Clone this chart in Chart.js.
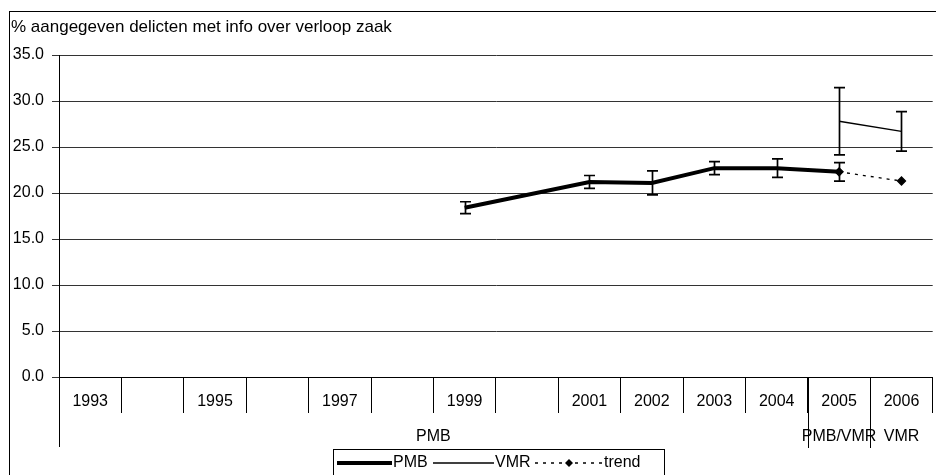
<!DOCTYPE html>
<html>
<head>
<meta charset="utf-8">
<script src="https://cdn.jsdelivr.net/npm/chart.js@4.4.1/dist/chart.umd.min.js"></script>
<style>
  html, body { margin: 0; padding: 0; background: #fff; overflow: hidden; }
  #wrap { position: absolute; left: 0; top: 0; width: 938px; height: 475px; }
</style>
</head>
<body>
<div id="wrap"><canvas id="myChart" width="938" height="475"></canvas></div>
<script>
// categories (empty label = year without measurement)
var years = ['1993', '', '1995', '', '1997', '', '1999', '', '2001', '2002', '2003', '2004', '2005', '2006'];
// second row of the category axis
var groupNames = ['PMB', 'PMB/VMR', 'VMR'];
var groupSpans = [12, 1, 1];

var pmb    = [null, null, null, null, null, null, 18.4, null, 21.2, 21.1, 22.7, 22.7, 22.3, null];
var pmbErr = [null, null, null, null, null, null, 0.65, null, 0.7, 1.3, 0.7, 1.0, 1.0, null];
var vmr    = [null, null, null, null, null, null, null, null, null, null, null, null, 27.8, 26.7];
var vmrErr = [null, null, null, null, null, null, null, null, null, null, null, null, 3.65, 2.15];
var trend  = [null, null, null, null, null, null, null, null, null, null, null, null, 22.3, 21.3];

var yTicks = [0, 5, 10, 15, 20, 25, 30, 35];
var yTitle = '% aangegeven delicten met info over verloop zaak';

var FAMILY = '"Liberation Sans", Arial, Helvetica, sans-serif';
var FONT = '16px ' + FAMILY;

// error bars per dataset index
var errors = [pmbErr, vmrErr, null];

var errorBars = {
    id: 'errorBars',
    afterDatasetsDraw: function(chart){
        var ctx = chart.ctx;
        var x = chart.scales.x, y = chart.scales.y;
        ctx.save();
        ctx.strokeStyle = '#000';
        ctx.lineWidth = 1.7;
        chart.data.datasets.forEach(function(ds, di){
            var err = errors[di];
            if (!err) return;
            ds.data.forEach(function(v, i){
                if (v === null || err[i] === null) return;
                var px = Math.round(x.getPixelForValue(i)) + 0.5;
                var top = y.getPixelForValue(v + err[i]);
                var bot = y.getPixelForValue(v - err[i]);
                ctx.beginPath();
                ctx.moveTo(px, top); ctx.lineTo(px, bot);
                ctx.moveTo(px - 5.5, top); ctx.lineTo(px + 5.5, top);
                ctx.moveTo(px - 5.5, bot); ctx.lineTo(px + 5.5, bot);
                ctx.stroke();
            });
        });
        ctx.restore();
    }
};

// frame, title, two-row category labels and the legend box
var decorations = {
    id: 'decorations',
    afterDraw: function(chart){
        var ctx = chart.ctx;
        var x = chart.scales.x;
        var area = chart.chartArea;
        var bottom = area.bottom;
        var step = x.getPixelForValue(1) - x.getPixelForValue(0);
        ctx.save();
        ctx.strokeStyle = '#000';
        ctx.lineWidth = 1;
        ctx.strokeRect(9.5, 11.5, 1000, 1000);

        ctx.fillStyle = '#000';
        ctx.font = '17px ' + FAMILY;
        ctx.textBaseline = 'middle';
        ctx.textAlign = 'left';
        ctx.fillText(yTitle, 11, 27);

        ctx.font = FONT;
        // axis line continues down through the label rows
        var ax = Math.round(area.left) + 0.5;
        ctx.beginPath();
        ctx.moveTo(ax, bottom); ctx.lineTo(ax, bottom + 70);
        ctx.stroke();

        ctx.textAlign = 'center';
        years.forEach(function(lbl, i){
            if (lbl) ctx.fillText(lbl, x.getPixelForValue(i), bottom + 25);
        });

        var start = 0;
        groupNames.forEach(function(name, g){
            var end = start + groupSpans[g] - 1;
            var cx = (x.getPixelForValue(start) + x.getPixelForValue(end)) / 2;
            ctx.fillText(name, cx, bottom + 60);
            if (start > 0) {
                var bx = Math.round(x.getPixelForValue(start) - step / 2) + 0.5;
                ctx.beginPath();
                ctx.moveTo(bx, bottom); ctx.lineTo(bx, bottom + 71);
                ctx.stroke();
            }
            start = end + 1;
        });

        // legend
        var ly = 463;
        ctx.strokeRect(333.5, 449.5, 331, 60);
        ctx.textAlign = 'left';
        var items = [
            {x0: 337, x1: 392, tx: 393},
            {x0: 433, x1: 494, tx: 495},
            {x0: 535, x1: 603, tx: 604}
        ];
        chart.data.datasets.forEach(function(ds, i){
            var it = items[i];
            ctx.save();
            ctx.lineWidth = ds.borderWidth;
            ctx.setLineDash(ds.borderDash || []);
            ctx.beginPath();
            ctx.moveTo(it.x0, ly); ctx.lineTo(it.x1, ly);
            ctx.stroke();
            ctx.restore();
            if (ds.pointRadius > 0) {
                var mx = (it.x0 + it.x1) / 2;
                ctx.beginPath();
                ctx.moveTo(mx, ly - 4); ctx.lineTo(mx + 4, ly);
                ctx.lineTo(mx, ly + 4); ctx.lineTo(mx - 4, ly);
                ctx.closePath();
                ctx.fill();
            }
            ctx.fillText(ds.label, it.tx, ly);
        });
        ctx.restore();
    }
};

var ctx = document.getElementById('myChart').getContext('2d');
var myChart = new Chart(ctx, {
    type: 'line',
    data: {
        labels: years,
        datasets: [{
            label: 'PMB',
            data: pmb,
            borderColor: '#000',
            borderWidth: 4,
            pointRadius: 0,
            spanGaps: true
        }, {
            label: 'VMR',
            data: vmr,
            borderColor: '#000',
            borderWidth: 1.3,
            pointRadius: 0
        }, {
            label: 'trend',
            data: trend,
            borderColor: '#000',
            borderWidth: 1.3,
            borderDash: [3, 5],
            pointStyle: 'rectRot',
            pointRadius: 4,
            pointBackgroundColor: '#000',
            pointBorderColor: '#000'
        }]
    },
    options: {
        responsive: false,
        animation: false,
        devicePixelRatio: 1,
        layout: { padding: { left: 9, top: 55, right: 1, bottom: 62 } },
        plugins: {
            legend: { display: false },
            tooltip: { enabled: false }
        },
        scales: {
            x: {
                offset: true,
                grid: {
                    offset: true,
                    drawOnChartArea: false,
                    drawTicks: true,
                    tickLength: 36,
                    color: '#000'
                },
                border: { display: true, color: '#000', width: 1 },
                ticks: { display: false },
                afterFit: function(s){ s.height = 36; }
            },
            y: {
                min: 0,
                max: 35,
                afterBuildTicks: function(s){ s.ticks = yTicks.map(function(v){ return {value: v}; }); },
                afterFit: function(s){ s.width = 50; },
                grid: { color: '#333', tickLength: 7 },
                border: { display: true, color: '#000', width: 1 },
                ticks: {
                    color: '#000',
                    padding: 8,
                    font: { family: FAMILY, size: 16 },
                    callback: function(v){ return Number(v).toFixed(1); }
                }
            }
        }
    },
    plugins: [errorBars, decorations]
});
</script>
</body>
</html>
